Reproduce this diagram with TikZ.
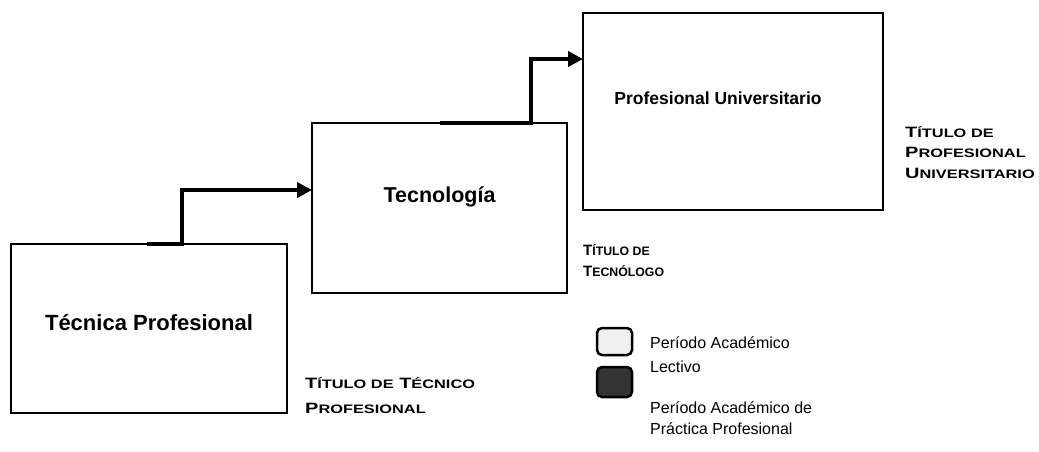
\documentclass[tikz,border=0pt]{standalone}
\usepackage{fontspec}
\setmainfont{Liberation Sans}
\newfontfamily\titulofont[FakeStretch=1.33]{Liberation Sans}
\newfontfamily\titulofontb[FakeStretch=1.0]{Liberation Sans}
\usetikzlibrary{arrows.meta}
\newcommand{\pq}[1]{{\fontsize{12.3pt}{21pt}\selectfont #1}}

\begin{document}
\begin{tikzpicture}[x = 1pt, y = 1pt,
    caja/.style = {draw, line width = 1.6pt, inner sep = 0pt, outer sep = 0pt},
    etiqueta/.style = {font = \bfseries\fontsize{21.5pt}{25pt}\selectfont, inner sep = 0pt},
    flecha/.style = {line width = 4.8pt, line join = miter,
      -{Triangle[length = 15pt, width = 15pt]}},
    titulo/.style = {anchor = base west, align = left, inner sep = 0pt},
    marca/.style = {draw, line width = 2.5pt, rounded corners = 5pt,
      inner sep = 0pt, outer sep = 0pt, minimum width = 35pt},
    leyenda/.style = {anchor = base west, align = left, inner sep = 0pt}]
  \useasboundingbox (0,0) rectangle (1039,451);
  % niveles
  \node[caja, minimum width = 276pt, minimum height = 169pt] (tecnica) at (149, 122.5) {};
  \node[caja, minimum width = 255pt, minimum height = 170pt] (tecnologia) at (439.5, 243) {};
  \node[caja, minimum width = 300pt, minimum height = 197pt] (universitario) at (733, 339.5) {};
  \node[etiqueta, font = \bfseries\fontsize{22pt}{25pt}\selectfont] (tecnica-txt) at (149, 128) {Técnica Profesional};
  \node[etiqueta] (tecnologia-txt) at (439.5, 254) {Tecnología};
  \node[etiqueta, font = \bfseries\fontsize{17.5pt}{21pt}\selectfont] (universitario-txt) at (718, 353) {Profesional Universitario};
  % paso de un nivel al siguiente
  \draw[flecha] ([xshift = 136pt]tecnica.north west) -- ++(35,0)
    |- ([yshift = -67pt]tecnologia.north west);
  \draw[flecha] ([xshift = 128pt]tecnologia.north west) -- ++(91,0)
    |- ([yshift = -46pt]universitario.north west);
  % titulos
  \node[titulo, font = \titulofont\bfseries\fontsize{15pt}{25pt}\selectfont] (titulo-tecnico) at (305, 38)
    {T\pq{ÍTULO DE} T\pq{ÉCNICO}\\P\pq{ROFESIONAL}};
  \node[titulo, font = \titulofontb\bfseries\fontsize{15pt}{21pt}\selectfont] (titulo-tecnologo) at (583, 175)
    {T\pq{ÍTULO DE}\\T\pq{ECNÓLOGO}};
  \node[titulo, font = \titulofont\bfseries\fontsize{15pt}{20.5pt}\selectfont] (titulo-universitario) at (905, 273)
    {T\pq{ÍTULO DE}\\P\pq{ROFESIONAL}\\U\pq{NIVERSITARIO}};
  % leyenda
  \node[marca, fill = gray!12, minimum height = 27pt] (lectivo) at (614.5, 109.5) {};
  \node[marca, fill = black!80, minimum height = 30pt] (practica) at (614.5, 69) {};
  \node[leyenda, font = \fontsize{16pt}{24pt}\selectfont] (lectivo-txt) at (650, 79) {Período Académico\\Lectivo};
  \node[leyenda, font = \fontsize{16pt}{21pt}\selectfont] (practica-txt) at (650, 17) {Período Académico de\\Práctica Profesional};
\end{tikzpicture}
\end{document}
